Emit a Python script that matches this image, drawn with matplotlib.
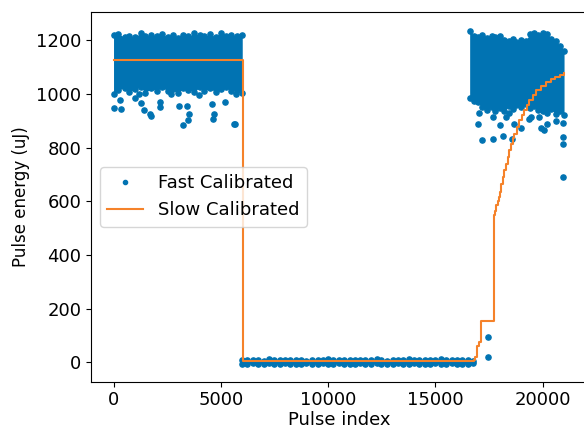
import matplotlib
matplotlib.use("Agg")
import matplotlib.pyplot as plt
import numpy as np

plt.rcParams['font.size'] = 13

# ---------------- data ----------------
# Fast Calibrated: dense band 1 (pulses 0-6000), envelope of dot centres
blob1_x = [0, 230, 520, 740, 1010, 1260, 1480, 1770, 2010, 2240, 2530, 2760, 2990,
           3260, 3490, 3760, 4020, 4240, 4510, 4770, 4990, 5260, 5480, 5760, 6000]
blob1_hi = [1218, 1222, 1212, 1216, 1210, 1228, 1214, 1220, 1216, 1224, 1212, 1218, 1208,
            1220, 1214, 1226, 1218, 1216, 1222, 1212, 1228, 1216, 1220, 1214, 1218]
blob1_lo = [1000, 1015, 1022, 1008, 1018, 1025, 1005, 1020, 1012, 1026, 1010, 1018, 1002,
            1022, 1015, 1008, 1024, 1012, 1020, 1006, 1018, 1025, 1010, 1016, 1005]

# Fast Calibrated: near-zero band (pulses 6000-16750)
ground_x = [6000, 6230, 6480, 6740, 7010, 7250, 7480, 7760, 8010, 8240, 8520, 8750,
            8990, 9240, 9510, 9760, 10020, 10250, 10490, 10740, 11010, 11260, 11500,
            11740, 12010, 12260, 12490, 12750, 13020, 13240, 13500, 13760, 14000, 14240,
            14510, 14760, 15000, 15250, 15490, 15760, 16010, 16240, 16500, 16750]
ground_hi = [9, 7, 10, 8, 6, 11, 8, 9, 7, 10, 8, 9, 6, 10, 9, 7, 11, 8, 10, 7, 9, 8,
             10, 7, 9, 11, 8, 6, 9, 10, 7, 12, 8, 9, 7, 10, 8, 11, 9, 7, 10, 8, 9, 6]
ground_lo = [-5, -6, -4, -6, -5, -4, -6, -5, -4, -6, -5, -6, -4, -5, -6, -4, -5, -6, -4, -5, -6, -5,
             -4, -6, -5, -4, -6, -5, -6, -4, -5, -6, -4, -5, -6, -5, -4, -6, -5, -4, -6, -5, -6, -4]

# Fast Calibrated: dense band 3 (pulses 16600-21000)
blob3_x = [16600, 16790, 17010, 17180, 17410, 17620, 17790, 18010, 18190, 18420, 18610, 18780,
           19010, 19220, 19390, 19610, 19790, 20020, 20190, 20410, 20620, 20790, 21000]
blob3_hi = [1236, 1214, 1212, 1218, 1208, 1214, 1210, 1216, 1200, 1196, 1204, 1194,
            1200, 1198, 1222, 1228, 1218, 1226, 1222, 1206, 1196, 1180, 1160]
blob3_lo = [985, 975, 968, 950, 940, 952, 938, 948, 935, 955, 945, 958,
            950, 962, 948, 955, 940, 935, 928, 942, 925, 935, 920]

# Fast Calibrated: isolated points
out_x = [0, 358, 979, 1413, 1290, 1678, 1756, 2175, 2143, 3075, 3417, 3541, 3463, 3230,
         4599, 4706, 4627, 5219, 5638, 5717, 1180, 2687, 4007, 280, 5670,
         17010, 17165, 17677, 18173, 18578, 18034, 18686, 18998, 19385, 19930, 20084, 20192,
         20630, 20970, 20970, 20970, 20938, 17055, 18299, 18453, 19464, 19851, 17677,
         17440, 17440]
out_y = [949, 943, 986, 939, 966, 926, 919, 971, 951, 954, 955, 926, 901, 885,
         964, 926, 908, 970, 889, 1001, 1001, 1001, 995, 979, 887,
         886, 827, 833, 842, 830, 883, 887, 873, 908, 874, 864, 889,
         899, 891, 839, 815, 690, 927, 914, 927, 914, 914, 914,
         93, 19]

# Slow Calibrated (step line)
slow_x = [0, 2800, 3300, 4500, 6020, 16745, 16800, 16870, 16950,
          17020, 17134, 17754, 17800, 17850, 17900, 17950, 18000, 18066, 18140, 18220,
          18300, 18374, 18450, 18532, 18610, 18686, 18800, 18919, 19030, 19152, 19270,
          19385, 19540, 19697, 19930, 20163, 20380, 20600, 20800, 21016]
slow_y = [1125, 1127, 1125, 1126, 3, 3, 10, 19, 60,
          75, 155, 547, 565, 585, 600, 615, 635, 665, 690, 715,
          740, 765, 790, 815, 835, 852, 878, 902, 920, 939, 958,
          976, 995, 1013, 1030, 1045, 1055, 1062, 1070, 1076]

blue = '#0173B2'
orange = '#F5822A'

fig = plt.figure(figsize=(5.84, 4.29), dpi=100)
ax = fig.add_axes([91 / 584, 47.4 / 429, 496 / 584, 369.6 / 429])

for xs, lo, hi in [(blob1_x, blob1_lo, blob1_hi), (ground_x, ground_lo, ground_hi),
                   (blob3_x, blob3_lo, blob3_hi)]:
    ax.fill_between(xs, lo, hi, color=blue, linewidth=0)

dots_x = blob1_x + blob1_x + ground_x + ground_x + blob3_x + blob3_x + out_x
dots_y = blob1_hi + blob1_lo + ground_hi + ground_lo + blob3_hi + blob3_lo + out_y
ax.plot(dots_x, dots_y, '.', color=blue, markersize=7.5, label='Fast Calibrated')

ax.plot(slow_x, slow_y, drawstyle='steps-post', color=orange, linewidth=1.5,
        label='Slow Calibrated')

ax.set_xlim(-1050, 22070)
ax.set_ylim(-72, 1305)
ax.set_xticks([0, 5000, 10000, 15000, 20000])
ax.set_yticks([0, 200, 400, 600, 800, 1000, 1200])
ax.set_xlabel('Pulse index', labelpad=1)
ax.set_ylabel('Pulse energy (uJ)', fontsize=12)
ax.legend(loc='center left', markerscale=0.8)

fig.savefig('out.png', dpi=100)
